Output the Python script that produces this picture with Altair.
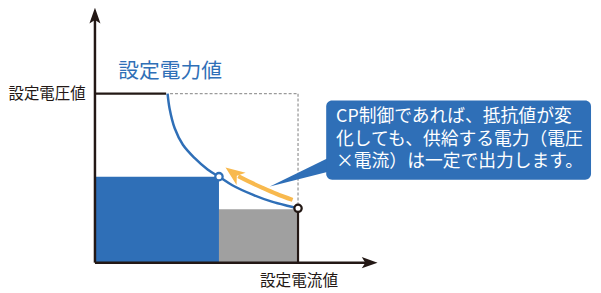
import altair as alt
import pandas as pd

# ---- data (current I, voltage V in diagram units) ----
curve_I = [73.5, 75.5, 80.7, 89, 100.7, 114, 125.5, 139, 159, 179, 195.7, 205.5]
curve_V = [171, 156, 136, 119.3, 106, 94.3, 87, 78.3, 69, 61.7, 57.3, 55]

set_V = 171          # 設定電圧値
knee_I = 72
op_I = [125.5, 205.5]   # operating points (blue / black)
op_V = [87, 55]

shaft_I = [200, 184, 169, 156, 145]
shaft_V = [63.5, 69.5, 76, 82, 87.5]
head_I, head_V = 140, 90.5

rect_x = [0, 125.5]
rect_x2 = [125.5, 205.5]
rect_y2 = [87, 54]
rect_col = ["#2F6FB7", "#A0A0A0"]

box = dict(x=234, x2=502, y=84, y2=164)
tail_I = [177, 236]
tail_top = [77, 106]
tail_bot = [77, 92]

callout_lines = ["CP制御であれば、抵抗値が変", "化しても、供給する電力（電圧", "×電流）は一定で出力します。"]
callout_V = [147, 124.5, 102]

FONT = "Noto Sans CJK JP"
BLUE = "#2F6FB7"
BLACK = "#231815"
ORANGE = "#F8B94E"

X = alt.Scale(domain=[-88, 504], nice=False, zero=False)
Y = alt.Scale(domain=[-27, 256], nice=False, zero=False)


def xe(f="x"):
    return alt.X(f"{f}:Q", scale=X, axis=None)


def ye(f="y"):
    return alt.Y(f"{f}:Q", scale=Y, axis=None)


rects = alt.Chart(pd.DataFrame({"x": rect_x, "x2": rect_x2, "y": [0, 0], "y2": rect_y2, "c": rect_col})).mark_rect().encode(
    x=xe(), x2="x2:Q", y=ye(), y2="y2:Q", color=alt.Color("c:N", scale=None))

dashed = alt.Chart(pd.DataFrame({"x": [knee_I + 4, op_I[1]], "x2": [op_I[1], op_I[1]],
                                  "y": [set_V, set_V], "y2": [set_V, op_V[1] + 4]})).mark_rule(
    color="#9A9A9A", strokeWidth=1.3, strokeDash=[3, 2]).encode(x=xe(), x2="x2:Q", y=ye(), y2="y2:Q")

solid = alt.Chart(pd.DataFrame({"x": [0, 0, 0, op_I[1]], "x2": [0, 276, knee_I, op_I[1]],
                                 "y": [0, 0, set_V, 0], "y2": [246, 0, set_V, op_V[1]],
                                 "w": [2.5, 2.5, 2.2, 2.2]})).mark_rule(color=BLACK).encode(
    x=xe(), x2="x2:Q", y=ye(), y2="y2:Q", strokeWidth=alt.StrokeWidth("w:Q", scale=None))

ARROW = "M0,-1 L0.7,1 L0,0.55 L-0.7,1 Z"
yhead = alt.Chart(pd.DataFrame({"x": [0], "y": [250]})).mark_point(
    shape=ARROW, filled=True, color=BLACK, size=256, opacity=1).encode(x=xe(), y=ye())
xhead = alt.Chart(pd.DataFrame({"x": [278], "y": [0]})).mark_point(
    shape=ARROW, filled=True, color=BLACK, size=256, angle=90, opacity=1).encode(x=xe(), y=ye())

curve = alt.Chart(pd.DataFrame({"x": curve_I, "y": curve_V})).mark_line(
    color=BLUE, strokeWidth=2.5, interpolate="catmull-rom").encode(x=xe(), y=ye())

shaft = alt.Chart(pd.DataFrame({"x": shaft_I, "y": shaft_V})).mark_line(
    color=ORANGE, strokeWidth=4.2, interpolate="catmull-rom").encode(x=xe(), y=ye())
ohead = alt.Chart(pd.DataFrame({"x": [head_I], "y": [head_V]})).mark_point(
    shape="M0,-1 L0.8,1 L0,0.45 L-0.8,1 Z", filled=True, color=ORANGE, size=380, angle=306,
    opacity=1).encode(x=xe(), y=ye())

pts = alt.Chart(pd.DataFrame({"x": op_I, "y": op_V, "s": [BLUE, BLACK]})).mark_point(
    shape="circle", filled=False, fill="white", fillOpacity=1, strokeWidth=2.3, size=55, opacity=1).encode(
    x=xe(), y=ye(), stroke=alt.Stroke("s:N", scale=None))

callbox = alt.Chart(pd.DataFrame([box])).mark_rect(color=BLUE, cornerRadius=6).encode(
    x=xe(), x2="x2:Q", y=ye(), y2="y2:Q")
tail = alt.Chart(pd.DataFrame({"x": tail_I, "y": tail_top, "y2": tail_bot})).mark_area(
    color=BLUE, opacity=1).encode(x=xe(), y=ye(), y2="y2:Q")

ctext = alt.Chart(pd.DataFrame({"x": [244] * 3, "y": callout_V, "t": callout_lines})).mark_text(
    font=FONT, fontSize=18, color="white", align="left", baseline="middle").encode(x=xe(), y=ye(), text="t:N")

labels = alt.Chart(pd.DataFrame({
    "x": [76, -48.5, 206.5], "y": [192.5, 171, -18.7],
    "t": ["設定電力値", "設定電圧値", "設定電流値"],
    "fs": [21, 15.6, 15.8], "c": [BLUE, BLACK, BLACK]})).mark_text(
    font=FONT, align="center", baseline="middle").encode(
    x=xe(), y=ye(), text="t:N", size=alt.Size("fs:Q", scale=None), color=alt.Color("c:N", scale=None))

chart = alt.layer(rects, dashed, curve, shaft, ohead, solid, yhead, xhead, pts, tail, callbox, ctext, labels).properties(
    width=592, height=283, padding=0, autosize=alt.AutoSizeParams(type="none")
).configure_view(stroke=None)

chart.save("out.html", embed_options={"renderer": "svg", "actions": False})
